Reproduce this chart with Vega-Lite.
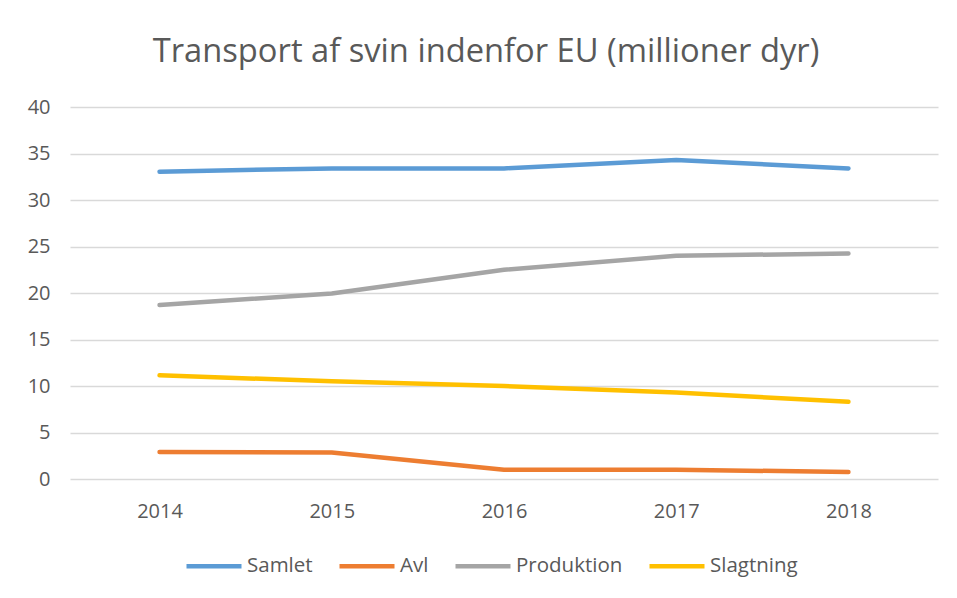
{
  "$schema": "https://vega.github.io/schema/vega-lite/v6.json",
  "autosize": "none",
  "width": 868,
  "height": 372,
  "padding": {"left": 70, "top": 107, "right": 19, "bottom": 119},
  "background": "white",
  "title": {
    "text": "Transport af svin indenfor EU (millioner dyr)",
    "font": "Open Sans",
    "fontSize": 32.7,
    "fontWeight": "normal",
    "color": "#595959",
    "anchor": "middle",
    "dx": -18,
    "offset": 28
  },
  "data": {
    "values": [
      {"year": "2014", "series": "Samlet", "value": 33.05},
      {"year": "2015", "series": "Samlet", "value": 33.4},
      {"year": "2016", "series": "Samlet", "value": 33.4},
      {"year": "2017", "series": "Samlet", "value": 34.3},
      {"year": "2018", "series": "Samlet", "value": 33.4},
      {"year": "2014", "series": "Avl", "value": 2.9},
      {"year": "2015", "series": "Avl", "value": 2.85},
      {"year": "2016", "series": "Avl", "value": 1.0},
      {"year": "2017", "series": "Avl", "value": 1.0},
      {"year": "2018", "series": "Avl", "value": 0.75},
      {"year": "2014", "series": "Produktion", "value": 18.7},
      {"year": "2015", "series": "Produktion", "value": 19.95},
      {"year": "2016", "series": "Produktion", "value": 22.5},
      {"year": "2017", "series": "Produktion", "value": 24.0},
      {"year": "2018", "series": "Produktion", "value": 24.25},
      {"year": "2014", "series": "Slagtning", "value": 11.15},
      {"year": "2015", "series": "Slagtning", "value": 10.5},
      {"year": "2016", "series": "Slagtning", "value": 10.0},
      {"year": "2017", "series": "Slagtning", "value": 9.3},
      {"year": "2018", "series": "Slagtning", "value": 8.3}
    ]
  },
  "mark": {"type": "line", "strokeWidth": 4.5, "strokeCap": "round", "strokeJoin": "round", "interpolate": "linear"},
  "encoding": {
    "x": {
      "field": "year",
      "type": "ordinal",
      "scale": {"type": "point", "padding": 0.52},
      "axis": {
        "title": null,
        "labelAngle": 0,
        "domain": false,
        "ticks": false,
        "grid": false,
        "labelFont": "Open Sans",
        "labelFontSize": 20,
        "labelColor": "#595959",
        "labelPadding": 22
      }
    },
    "y": {
      "field": "value",
      "type": "quantitative",
      "scale": {"domain": [0, 40], "nice": false},
      "axis": {
        "title": null,
        "values": [0, 5, 10, 15, 20, 25, 30, 35, 40],
        "domain": false,
        "ticks": false,
        "gridColor": "#d9d9d9",
        "gridWidth": 1.3,
        "labelFont": "Open Sans",
        "labelFontSize": 20,
        "labelColor": "#595959",
        "labelPadding": 20
      }
    },
    "color": {
      "field": "series",
      "type": "nominal",
      "scale": {
        "domain": ["Samlet", "Avl", "Produktion", "Slagtning"],
        "range": ["#5B9BD5", "#ED7D31", "#A5A5A5", "#FFC000"]
      },
      "legend": {
        "title": null,
        "orient": "none",
        "direction": "horizontal",
        "legendX": 114,
        "legendY": 429,
        "symbolType": "stroke",
        "symbolSize": 3025,
        "symbolStrokeWidth": 4.5,
        "labelFont": "Open Sans",
        "labelFontSize": 20.5,
        "labelColor": "#595959",
        "labelOffset": 3,
        "columnPadding": 17
      }
    }
  },
  "config": {"view": {"stroke": null}}
}
